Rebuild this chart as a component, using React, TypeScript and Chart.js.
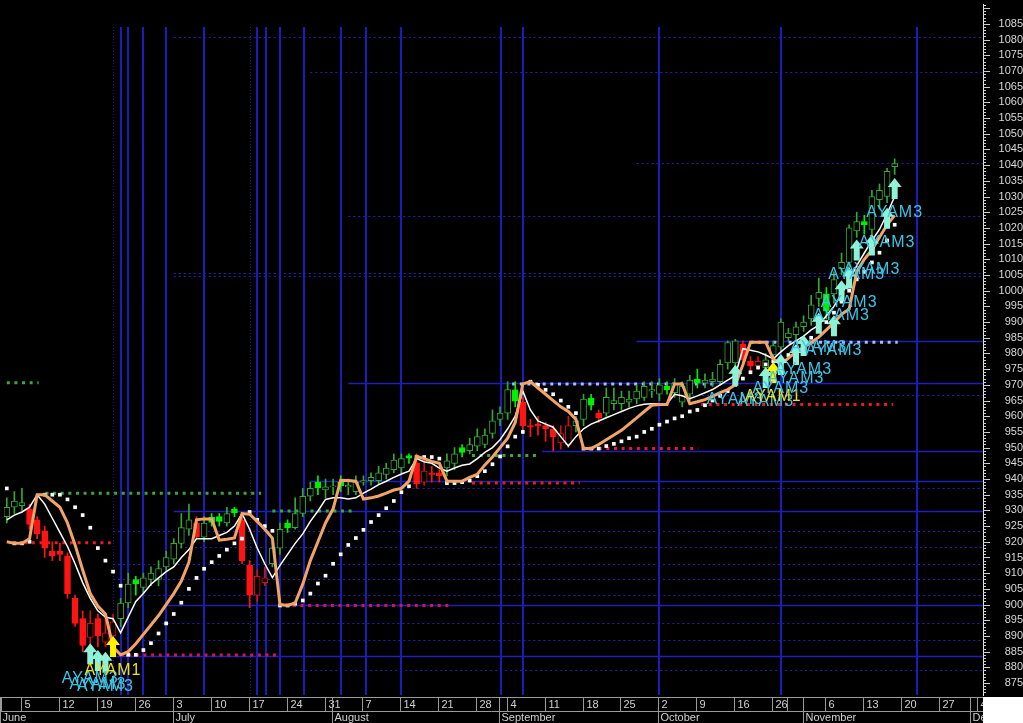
import React, { useEffect, useRef } from "react";
import { Chart, registerables } from "chart.js";

Chart.register(...registerables);

// ---------- price bars (one per trading day, index 0 = 1 June) ----------
const opens = [
  928, 931, 931.5, 930.5, 927, 923.5, 917, 917, 915.5, 902,
  895.5, 889.5, 895.5, 888, 890, 895.5, 900.5, 908, 905.5, 908,
  908, 912, 914.5, 919.5, 924, 926, 921.5, 927.8, 928, 926,
  930.5, 927, 912.5, 903, 907, 913, 918, 926, 924.5, 929,
  934.5, 939, 936.5, 937.5, 939, 937.5, 936, 939, 939.5, 939.5,
  941.5, 943, 943.5, 947.5, 945, 939, 942, 942, 943.5, 945,
  950, 949, 950.5, 951, 954.5, 959, 961, 968.4, 964.5, 957,
  957.5, 957, 955.8, 951.5, 951, 957, 959, 965.8, 961, 961,
  964, 964, 964.5, 965.5, 966, 968, 967, 969.5, 967.5, 964.5,
  967, 971.8, 970.5, 971, 971, 977, 977, 983, 977.5, 976,
  975.5, 979.5, 982, 985, 986, 988.5, 991, 997.5, 999, 999,
  1007, 1009, 1019, 1022, 1019.5, 1029, 1030, 1039.5,
];
const highs = [
  934, 936, 937, 932, 928, 925, 920, 919.5, 916.5, 903,
  898, 898, 897, 896, 897, 902, 910, 909, 910, 912,
  914, 917, 921, 929, 932, 928, 928, 929, 929, 931,
  931, 929, 914, 911, 912, 920, 926, 927, 934, 937,
  939, 941, 940, 940, 941, 940, 941, 941, 942, 944,
  945, 948, 948, 948, 948, 946, 944, 943, 948, 950,
  951, 953, 956, 956, 962, 963, 971, 971, 966, 959,
  960, 958, 957, 957, 960, 960, 967, 967, 962, 969,
  969, 968, 968, 970, 971, 971, 972, 971, 972, 971,
  973, 975, 973.5, 974, 978, 984, 984.5, 984, 979, 979,
  980, 984, 991, 988, 990, 992, 998.5, 1004, 1001, 1006,
  1012, 1021, 1025, 1024, 1032, 1034, 1039, 1042,
];
const lows = [
  926, 929, 930, 924, 921, 915, 914, 914, 902, 893,
  885, 887.5, 886.5, 886.5, 884, 893, 899, 903, 903.5, 906,
  906, 911, 913, 918, 922, 921, 920, 925, 925, 925,
  928, 913, 899, 901, 906, 912, 916, 923, 924, 928,
  933, 935, 934, 935, 936, 935, 935, 938, 938, 938.5,
  940, 942, 942, 945, 937, 938, 939, 939, 941, 943,
  947, 948, 949, 950, 953, 957, 959, 963, 955, 953.5,
  954, 952, 949, 949.5, 950, 955, 957, 962, 958, 960,
  962, 962, 963, 964, 965, 966, 965, 967, 966, 963,
  965, 969, 969, 969.5, 970, 975, 975, 976, 974.5, 975,
  973, 977, 981, 984, 984, 987, 989, 995, 991, 996,
  1005, 1006, 1017, 1018, 1017, 1026, 1028, 1037,
];
const closes = [
  931, 933, 932.5, 925.5, 922.5, 918, 915.5, 916, 903.5, 894,
  887, 894, 890, 891, 894.5, 900.5, 906.5, 906.6, 908.5, 910,
  911.5, 915, 919.5, 924.5, 927, 921.5, 926, 926.2, 926.5, 929,
  929.2, 914, 903, 909, 908.5, 918, 924, 924.5, 929, 934.5,
  937, 937.2, 937.5, 937.8, 937.9, 938, 939, 939.5, 940.5, 942,
  943.5, 946, 946.5, 946.6, 938.5, 942.5, 941.5, 941, 945.8, 948,
  948.5, 951, 953.5, 954, 958.5, 961, 968.5, 964.8, 957, 956.5,
  956.8, 956, 953.5, 954.5, 957, 958.5, 965.5, 963.5, 959.5, 966,
  965, 966, 965.5, 968, 969.5, 968.5, 970, 968.5, 970.5, 969.5,
  971.5, 970.5, 971.5, 971.8, 976.5, 983.5, 984, 978, 976, 977.5,
  978, 982.5, 990, 986.5, 988.5, 990, 995.5, 999.5, 993.5, 1003.5,
  1009, 1020, 1022, 1021, 1030, 1032, 1038, 1040.5,
];
// bars painted in the bearish colour (index ranges, inclusive)
const bearishRanges = [[3, 14], [25, 25], [31, 34], [54, 57], [68, 74], [78, 78], [97, 99]];

// ---------- indicator lines ----------
const fastLine = [
  927, 928.5, 929.5, 931, 935, 932, 927.5, 923, 918.5, 913,
  907, 902, 898, 896, 895.5, 891, 896, 901, 903.5, 906.5,
  908.5, 910.5, 912, 915, 917.5, 921, 921, 921, 922, 923,
  925, 929, 924, 918, 913, 908.6, 912.5, 916, 919.5, 922.5,
  926.5, 929.8, 933.5, 934, 934, 933.6, 934, 935.5, 936.8, 938.2,
  939.3, 940.5, 941.6, 942.5, 946.5, 945.5, 945, 943.5, 942.5, 943.5,
  944.4, 944.8, 946.5, 948.5, 950, 952.5, 956, 960, 968, 962,
  958.5, 957.5, 956.5, 953.5, 950.5, 953.5, 956, 957.5, 958.5, 959.5,
  960.5, 961.5, 962.5, 963.3, 963.8, 964, 964, 964, 967, 966.5,
  965.6, 966.5, 967.5, 968.5, 970, 971.5, 973, 981.5, 981, 980.5,
  979.5, 978.3, 980.5, 982.5, 984, 985.5, 987.5, 989, 992, 995,
  999, 1003, 1008, 1012, 1016, 1019.5, 1024.5, 1030,
];
const slowLine = [
  920, 919.5, 919.5, 921, 935, 935, 933, 931, 926, 919,
  911, 903.5, 899.5, 897, 886.5, 884, 885, 887.5, 890.5, 893.5,
  896.5, 900, 903.5, 907.5, 913.5, 927, 927.3, 927.3, 920.5, 920.8,
  921.2, 929, 928.8, 926.5, 924, 921.2, 900, 899.7, 900.5, 906.5,
  914, 920, 926, 930.5, 939.6, 939.5, 939.3, 933.6, 934, 934.6,
  935.5, 936.5, 937, 939.3, 947.2, 946.5, 945.6, 945, 939.3, 939.3,
  939.3, 940.5, 941.5, 944.5, 947, 950, 953, 958, 970.3, 971,
  969, 967, 965, 963, 961.5, 959, 949.7, 949.7, 951, 952.5,
  954, 955.5, 957.5, 959.5, 961.5, 963.5, 963.7, 963.7, 970.3, 970.3,
  964, 964.6, 965.3, 966.3, 967.5, 968.5, 970, 976.4, 983.6, 983.6,
  983.6, 978.3, 976.5, 978.5, 980.5, 982, 983.5, 985.2, 987.5, 989.8,
  992.5, 994.1, 1006, 1010, 1013, 1017, 1021, 1024,
];
const stopDots = [
  937, 919.5, 919.5, 920, null, 935, 935, 935, 933.5, 931,
  928.5, 924.5, 918, 914, 910.5, 906, 884, 884, 885.5, 887.7,
  890.8, 894, 897, 900.6, 905, 908.5, 911.4, 913.5, 915.5, 917.5,
  919.5, 921, 929.5, 927, 925, 923.5, 899.7, 899.7, 900.3, 901.3,
  903.5, 906.7, 909.2, 913, 916, 919, 921.2, 923.8, 926.3, 928.5,
  930.7, 933, 935.8, 937.7, 947, 947, 947, 946.5, 938.7, 938.7,
  939, 939.5, 940.9, 942.5, 944.7, 947.2, 950.4, 953.5, 955, 971,
  970, 968.4, 967, 965, 963, 961, 949.7, 949.7, 949.7, 950.5,
  951.2, 952, 953, 953.5, 955, 956, 957.3, 958.3, 959.3, 960,
  961.5, 962, 963.5, 965, 966.5, 968, 970, 972, 974, 975.5,
  976.5, 977.5, 978.5, 979.5, 981, 983, 985, 987.5, 990, 993,
  996.5, 1000, 1003.6, 1006, 1009, 1012.1, 1016, 1021,
];

// dotted support / resistance levels: [value, fromIndex, toIndex, kind]
const dottedLevels = [
  [970.7, 0, 4.2, "g"],
  [935.5, 5.1, 33.5, "g"],
  [919.7, 2.3, 13.7, "r"],
  [883.9, 14, 35.5, "m"],
  [929.8, 35, 45.6, "g"],
  [899.7, 37.7, 58.4, "m"],
  [947.5, 61.3, 70.2, "g"],
  [938.7, 61.3, 75.5, "r"],
  [970.3, 66.6, 93.2, "w"],
  [949.7, 77, 91.1, "r"],
  [963.7, 91.5, 116.8, "r"],
  [983.6, 98, 117.4, "w"],
];
// blue horizontal levels: [value, fromIndex, dashed(1) / solid(0)]
const blueLevels = [
  [1080.9, 22, 1], [1069.8, 40, 1], [1040.7, 83, 1], [1023.9, 45, 1],
  [1005.6, 22, 1], [1004.8, 22, 1], [984, 83, 0], [970.6, 45, 0],
  [966.8, 89, 1], [949, 70.5, 0], [939.4, 40, 0], [937, 51.5, 1],
  [929.9, 22, 0], [923.5, 14, 1], [918.4, 21.5, 1], [913, 14, 1],
  [908.3, 14, 1], [903.2, 18, 1], [900, 21, 0], [894, 20.5, 1],
  [888.6, 18, 1], [883.5, 14, 0], [879, 38, 1],
];
// vertical time marks (bar index)
const verticalMarks = [15, 16, 18, 21, 26, 33, 34.1, 36, 39.1, 44, 47.3, 52, 65.1, 68, 85.9, 102, 119.9];
const faintVerticalMarks = [14, 32];
const verticalTop = 1084;

// signals: [barIndex, arrowTipPrice, kind]
const signals = [
  [11, 887.7, 3], [12, 885.5, 3], [13, 885, 3], [14, 890, 1],
  [96, 976.4, 3], [100, 975.7, 3], [101, 977.3, 1], [102, 979.8, 3],
  [104, 983, 3], [105, 985.9, 3], [107, 993, 3], [109, 992.2, 3],
  [110, 1003.3, 3], [111, 1007.4, 3], [112, 1016.3, 3], [114, 1017.9, 3],
  [116, 1026.4, 3], [117, 1035.9, 3],
];

// date axis
const weekTicks = [
  [2, "5"], [7, "12"], [12, "19"], [17, "26"], [22, "3"], [27, "10"], [32, "17"],
  [37, "24"], [42, "31"], [47, "7"], [52, "14"], [57, "21"], [62, "28"], [66, "4"],
  [71, "11"], [76, "18"], [81, "25"], [86, "2"], [91, "9"], [96, "16"], [101, "26"],
  [103, ""], [108, "6"], [113, "13"], [118, "20"], [123, "27"], [128, "4"],
];
const monthTicks = [
  [0, "June"], [22, "July"], [43, "August"], [65, "September"],
  [86, "October"], [105, "November"], [127, "December"],
];

const X_MIN = -0.367;
const X_MAX = 128.64;
const Y_MIN = 871.19;
const Y_MAX = 1091.33;

const GREEN_LINE = "#34a834";
const GREEN_FILL = "#00ee00";
const RED_LINE = "#d41010";
const RED_FILL = "#ff1414";
const LEVEL_COLORS: Record<string, string> = {
  g: "#3aa83a",
  r: "#e81c1c",
  m: "#d0145a",
  w: "#a8bcff",
};
const FONT = '"Liberation Sans", Arial, sans-serif';

const bgPlugin = {
  id: "bgFill",
  beforeDraw(chart: any) {
    const ctx = chart.ctx;
    ctx.save();
    ctx.fillStyle = "#000";
    ctx.fillRect(0, 0, chart.width, chart.height);
    ctx.restore();
  },
};

const gridPlugin = {
  id: "blueGrid",
  beforeDatasetsDraw(chart: any) {
    const { ctx, chartArea: a, scales } = chart;
    const x = scales.x;
    const y = scales.y;
    ctx.save();
    ctx.beginPath();
    ctx.rect(a.left, a.top, a.right - a.left, a.bottom - a.top);
    ctx.clip();
    blueLevels.forEach(([v, from, dashed]) => {
      const py = Math.round(y.getPixelForValue(v)) + 0.5;
      const px = x.getPixelForValue(from);
      ctx.strokeStyle = dashed ? "#2424a8" : "#2020b8";
      ctx.lineWidth = dashed ? 1 : 1.5;
      ctx.setLineDash(dashed ? [2, 3] : []);
      ctx.beginPath();
      ctx.moveTo(px, py);
      ctx.lineTo(a.right, py);
      ctx.stroke();
    });
    const top = y.getPixelForValue(verticalTop);
    ctx.setLineDash([]);
    ctx.strokeStyle = "#1c1cbc";
    ctx.lineWidth = 2;
    verticalMarks.forEach((i) => {
      const px = Math.round(x.getPixelForValue(i));
      ctx.beginPath();
      ctx.moveTo(px, top);
      ctx.lineTo(px, a.bottom);
      ctx.stroke();
    });
    ctx.strokeStyle = "#1c1c90";
    ctx.lineWidth = 1;
    ctx.setLineDash([1, 2]);
    faintVerticalMarks.forEach((i) => {
      const px = Math.round(x.getPixelForValue(i)) + 0.5;
      ctx.beginPath();
      ctx.moveTo(px, top);
      ctx.lineTo(px, a.bottom);
      ctx.stroke();
    });
    ctx.restore();
  },
};

const signalsPlugin = {
  id: "signals",
  afterDatasetsDraw(chart: any) {
    const { ctx, chartArea: a, scales } = chart;
    const x = scales.x;
    const y = scales.y;
    ctx.save();
    ctx.beginPath();
    ctx.rect(a.left, a.top, a.right - a.left, a.bottom - a.top);
    ctx.clip();
    signals.forEach(([i, price, kind]) => {
      const px = x.getPixelForValue(i);
      const py = y.getPixelForValue(price);
      ctx.fillStyle = kind === 1 ? "#fff200" : "#8ef2d8";
      ctx.beginPath();
      ctx.moveTo(px, py);
      ctx.lineTo(px + 7, py + 9);
      ctx.lineTo(px + 3, py + 9);
      ctx.lineTo(px + 3, py + 21);
      ctx.lineTo(px - 3, py + 21);
      ctx.lineTo(px - 3, py + 9);
      ctx.lineTo(px - 7, py + 9);
      ctx.closePath();
      ctx.fill();
    });
    ctx.font = `16px ${FONT}`;
    try {
      (ctx as any).letterSpacing = "1px";
    } catch (e) {}
    ctx.textAlign = "center";
    ctx.textBaseline = "middle";
    signals.forEach(([i, price, kind]) => {
      const px = x.getPixelForValue(i);
      const py = y.getPixelForValue(price);
      ctx.fillStyle = kind === 1 ? "#ece020" : "#3ec4e6";
      ctx.fillText(kind === 1 ? "AYAM1" : "AYAM3", px, py + 35);
    });
    ctx.restore();
  },
};

const axisPlugin = {
  id: "dateAxis",
  afterDraw(chart: any) {
    const { ctx, chartArea: a, scales } = chart;
    const x = scales.x;
    const y = scales.y;
    ctx.save();
    // minor / major ticks on the price axis
    ctx.strokeStyle = "#cfcfcf";
    ctx.lineWidth = 1;
    for (let v = Math.ceil(Y_MIN); v <= Math.floor(Y_MAX); v++) {
      const py = Math.round(y.getPixelForValue(v)) + 0.5;
      const len = v % 5 === 0 ? 7 : 3;
      ctx.beginPath();
      ctx.moveTo(a.right, py);
      ctx.lineTo(a.right + len, py);
      ctx.stroke();
    }
    // date rows
    const r0 = a.bottom + 2;
    const r1 = r0 + 14;
    const r2 = chart.height;
    ctx.fillStyle = "#000";
    ctx.fillRect(0, a.bottom, a.right, r2 - a.bottom);
    ctx.strokeStyle = "#9a9a9a";
    const seg = (x1: number, y1: number, x2: number, y2: number) => {
      ctx.beginPath();
      ctx.moveTo(x1, y1);
      ctx.lineTo(x2, y2);
      ctx.stroke();
    };
    seg(0, r0 + 0.5, a.right, r0 + 0.5);
    seg(0, r1 + 0.5, a.right, r1 + 0.5);
    seg(1.5, r0, 1.5, r1);
    ctx.font = `11px ${FONT}`;
    ctx.fillStyle = "#d0d0d0";
    ctx.textBaseline = "middle";
    ctx.textAlign = "left";
    weekTicks.forEach(([i, label]) => {
      const px = Math.round(x.getPixelForValue(i)) - 0.5;
      seg(px, r0, px, r1);
      ctx.fillText(label, px + 3, (r0 + r1) / 2 + 1);
    });
    monthTicks.forEach(([i, label]) => {
      const px = i === 0 ? 0.5 : Math.round(x.getPixelForValue(i)) - 0.5;
      seg(px, r0, px, r2);
      ctx.fillText(label, px + 2, (r1 + r2) / 2 + 1);
    });
    ctx.fillStyle = "#ffffff";
    ctx.fillRect(a.right, r0, chart.width - a.right, r2 - r0);
    ctx.restore();
  },
};

function buildConfig(): any {
  const idx = closes.map((_, i) => i);
  const bearish = (i: number) => bearishRanges.some(([s, e]) => i >= s && i <= e);
  const filled = (i: number) => closes[i] < opens[i];
  const lineColor = (i: number) =>
    bearish(i) ? (filled(i) ? RED_FILL : RED_LINE) : filled(i) ? GREEN_FILL : GREEN_LINE;

  const datasets: any[] = [];
  dottedLevels.forEach(([v, s, e, k]) => {
    datasets.push({
      type: "line",
      data: [
        { x: s, y: v },
        { x: e, y: v },
      ],
      borderColor: LEVEL_COLORS[k as string],
      borderWidth: 3,
      borderDash: [3, 4.62],
      pointRadius: 0,
      order: 6,
    });
  });
  datasets.push({
    type: "bar",
    data: idx.map((i) => ({ x: i, y: [lows[i], highs[i]] })),
    backgroundColor: idx.map(lineColor),
    borderWidth: 0,
    barThickness: 1,
    grouped: false,
    order: 4,
  });
  datasets.push({
    type: "bar",
    data: idx.map((i) => ({ x: i, y: [opens[i], closes[i]] })),
    backgroundColor: idx.map((i) => (filled(i) ? lineColor(i) : "#000000")),
    borderColor: idx.map(lineColor),
    borderWidth: 1,
    borderSkipped: false,
    barThickness: 6,
    grouped: false,
    order: 3,
  });
  datasets.push({
    type: "line",
    data: idx.filter((i) => stopDots[i] !== null).map((i) => ({ x: i, y: stopDots[i] })),
    showLine: false,
    pointStyle: "rect",
    pointRadius: 2.6,
    pointBackgroundColor: "#ffffff",
    pointBorderWidth: 0,
    order: 2,
  });
  datasets.push({
    type: "line",
    data: idx.map((i) => ({ x: i, y: fastLine[i] })),
    borderColor: "#ffffff",
    borderWidth: 1.5,
    pointRadius: 0,
    tension: 0,
    order: 1,
  });
  datasets.push({
    type: "line",
    data: idx.map((i) => ({ x: i, y: slowLine[i] })),
    borderColor: "#f2a468",
    borderWidth: 3,
    pointRadius: 0,
    tension: 0,
    order: 0,
  });

  return {
    type: "bar",
    data: { datasets },
    options: {
      responsive: false,
      maintainAspectRatio: false,
      animation: false,
      events: [],
      layout: { padding: { left: 0, right: 0, top: 0, bottom: 28 } },
      plugins: { legend: { display: false }, tooltip: { enabled: false } },
      scales: {
        x: {
          type: "linear",
          min: X_MIN,
          max: X_MAX,
          display: false,
          offset: false,
          grid: { display: false },
        },
        y: {
          type: "linear",
          position: "right",
          min: Y_MIN,
          max: Y_MAX,
          grid: { display: false, drawTicks: false },
          border: { display: true, color: "#e6e6e6", width: 1 },
          ticks: {
            stepSize: 5,
            autoSkip: false,
            includeBounds: false,
            padding: 13,
            crossAlign: "far",
            color: "#d8d8d8",
            font: { family: FONT, size: 11 },
            callback: (v: number) =>
              Math.abs(v % 5) < 1e-6 && v <= 1085 ? String(v) : "",
          },
          afterFit: (s: any) => {
            s.width = 40;
            s.paddingTop = 0;
            s.paddingBottom = 0;
          },
        },
      },
    },
    plugins: [bgPlugin, gridPlugin, signalsPlugin, axisPlugin],
  };
}

export default function App() {
  const ref = useRef<HTMLCanvasElement>(null);
  useEffect(() => {
    const canvas = ref.current;
    if (!canvas) return;
    const chart = new Chart(canvas, buildConfig());
    return () => chart.destroy();
  }, []);
  return (
    <div
      style={{
        position: "fixed",
        left: 0,
        top: 0,
        width: 1023,
        height: 723,
        background: "#000",
      }}
    >
      <canvas
        ref={ref}
        width={1023}
        height={723}
        style={{ display: "block", width: 1023, height: 723 }}
      />
    </div>
  );
}
